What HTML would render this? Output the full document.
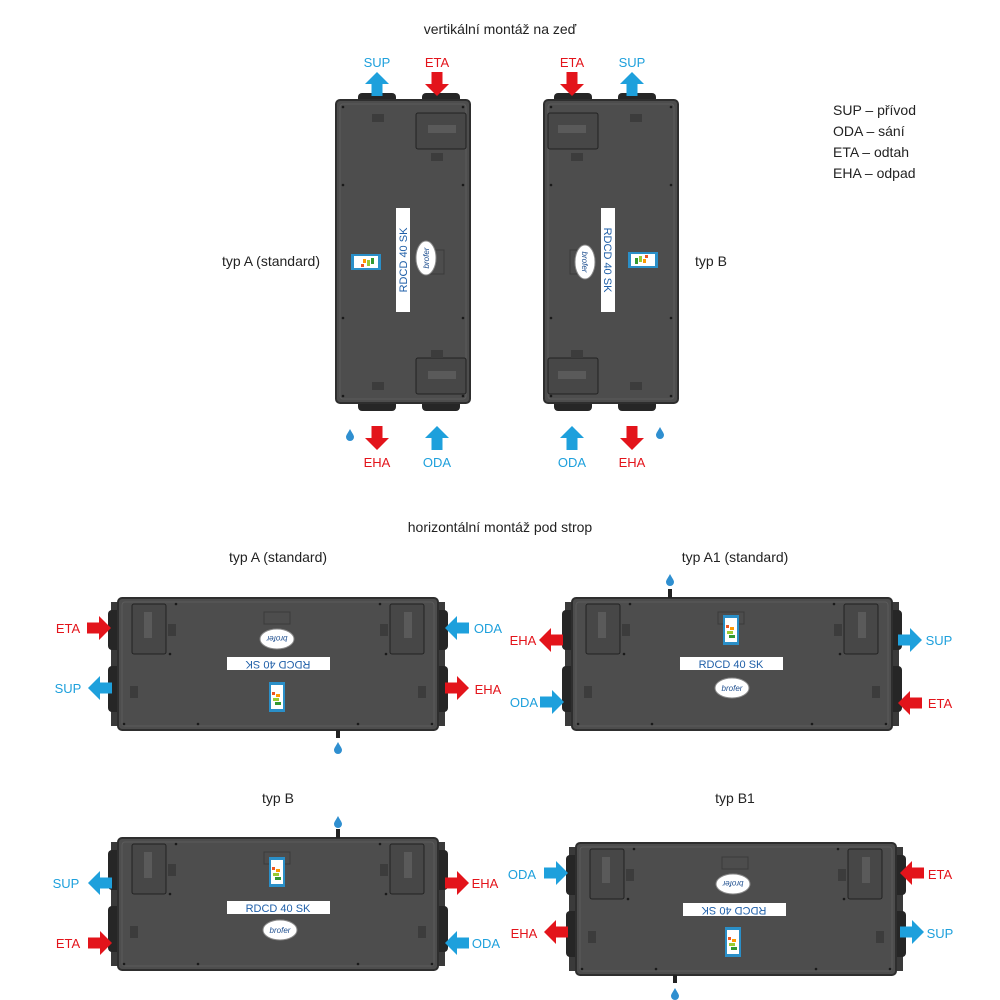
<!DOCTYPE html>
<html><head><meta charset="utf-8"><style>
html,body{margin:0;padding:0;background:#fff;}
svg{display:block;font-family:"Liberation Sans",sans-serif;}
</style></head><body>
<svg width="1000" height="1000" viewBox="0 0 1000 1000" xmlns="http://www.w3.org/2000/svg">
<defs>
<polygon id="ar" points="-12,-5.5 0,-5.5 0,-12 12,0 0,12 0,5.5 -12,5.5"/>
<path id="drop" d="M0,-6 C2,-2 4,0 4,2 A4,4 0 0 1 -4,2 C-4,0 -2,-2 0,-6Z" fill="#2f8fd0"/>
<g id="hunit">
  <rect x="-7" y="4" width="8" height="124" fill="#3a3a3a"/>
  <rect x="319" y="4" width="8" height="124" fill="#3a3a3a"/>
  <rect x="-10" y="12" width="14" height="40" rx="4" fill="#262626"/>
  <rect x="-10" y="68" width="14" height="46" rx="4" fill="#262626"/>
  <rect x="316" y="12" width="14" height="40" rx="4" fill="#262626"/>
  <rect x="316" y="68" width="14" height="46" rx="4" fill="#262626"/>
  <rect x="0" y="0" width="320" height="132" rx="4" fill="#4d4d4d" stroke="#2e2e2e" stroke-width="2"/>
  <rect x="4" y="4" width="312" height="124" rx="3" fill="none" stroke="#5c5c5c" stroke-width="1"/>
  <rect x="14" y="6" width="34" height="50" rx="2" fill="#474747" stroke="#222" stroke-width="1"/>
  <rect x="272" y="6" width="34" height="50" rx="2" fill="#474747" stroke="#222" stroke-width="1"/>
  <rect x="26" y="14" width="8" height="26" fill="#5a5a5a"/>
  <rect x="286" y="14" width="8" height="26" fill="#5a5a5a"/>
  <rect x="50" y="26" width="8" height="12" fill="#3c3c3c"/>
  <rect x="262" y="26" width="8" height="12" fill="#3c3c3c"/>
  <rect x="12" y="88" width="8" height="12" fill="#3c3c3c"/>
  <rect x="300" y="88" width="8" height="12" fill="#3c3c3c"/>
  <rect x="146" y="14" width="26" height="12" fill="none" stroke="#3a3a3a"/>
  <g fill="#1a1a1a"><circle cx="58" cy="6" r="1.3"/><circle cx="262" cy="6" r="1.3"/><circle cx="52" cy="56" r="1.3"/><circle cx="268" cy="56" r="1.3"/><circle cx="80" cy="126" r="1.3"/><circle cx="240" cy="126" r="1.3"/><circle cx="6" cy="126" r="1.3"/><circle cx="314" cy="126" r="1.3"/></g>
</g>
<g id="vunit">
  <rect x="22" y="-7" width="38" height="14" rx="4" fill="#262626"/>
  <rect x="86" y="-7" width="38" height="14" rx="4" fill="#262626"/>
  <rect x="22" y="297" width="38" height="14" rx="4" fill="#262626"/>
  <rect x="86" y="297" width="38" height="14" rx="4" fill="#262626"/>
  <rect x="0" y="0" width="134" height="303" rx="4" fill="#4d4d4d" stroke="#2e2e2e" stroke-width="2"/>
  <rect x="4" y="4" width="126" height="295" rx="3" fill="none" stroke="#5c5c5c"/>
  <rect x="80" y="13" width="50" height="36" rx="2" fill="#474747" stroke="#222"/>
  <rect x="80" y="258" width="50" height="36" rx="2" fill="#474747" stroke="#222"/>
  <rect x="92" y="25" width="28" height="8" fill="#5a5a5a"/>
  <rect x="92" y="271" width="28" height="8" fill="#5a5a5a"/>
  <rect x="95" y="53" width="12" height="8" fill="#3c3c3c"/>
  <rect x="95" y="250" width="12" height="8" fill="#3c3c3c"/>
  <rect x="36" y="14" width="12" height="8" fill="#3c3c3c"/>
  <rect x="36" y="282" width="12" height="8" fill="#3c3c3c"/>
  <rect x="94" y="150" width="14" height="24" fill="none" stroke="#3a3a3a"/>
  <g fill="#1a1a1a"><circle cx="7" cy="7" r="1.3"/><circle cx="127" cy="7" r="1.3"/><circle cx="7" cy="85" r="1.3"/><circle cx="127" cy="85" r="1.3"/><circle cx="7" cy="218" r="1.3"/><circle cx="127" cy="218" r="1.3"/><circle cx="7" cy="296" r="1.3"/><circle cx="127" cy="296" r="1.3"/></g>
</g>
<g id="elab">
  <rect x="0" y="0" width="16" height="30" fill="#2a8fc8"/>
  <rect x="2" y="3" width="12" height="24" fill="#fff"/>
  <rect x="3" y="10" width="3" height="3" fill="#e52"/><rect x="7" y="12" width="4" height="3" fill="#f90"/><rect x="4" y="16" width="6" height="3" fill="#9c3"/><rect x="6" y="20" width="6" height="3" fill="#393"/>
</g>
<g id="brof"><ellipse cx="0" cy="0" rx="17" ry="10" fill="#fff" stroke="#888"/><text x="0" y="3" font-size="8" text-anchor="middle" fill="#1f4f8f" font-style="italic">brofer</text></g>
</defs>

<g font-size="14" fill="#222">
<text x="500" y="34" text-anchor="middle">vertikální montáž na zeď</text>
<text x="500" y="532" text-anchor="middle">horizontální montáž pod strop</text>
<text x="320" y="266" text-anchor="end">typ A (standard)</text>
<text x="695" y="266">typ B</text>
<text x="278" y="562" text-anchor="middle">typ A (standard)</text>
<text x="735" y="562" text-anchor="middle">typ A1 (standard)</text>
<text x="278" y="803" text-anchor="middle">typ B</text>
<text x="735" y="803" text-anchor="middle">typ B1</text>
<text x="833" y="115">SUP – přívod</text>
<text x="833" y="136">ODA – sání</text>
<text x="833" y="157">ETA – odtah</text>
<text x="833" y="178">EHA – odpad</text>
</g>

<use href="#vunit" x="336" y="100"/>
<rect x="396" y="208" width="14" height="104" fill="#fff"/>
<text transform="translate(407,260) rotate(-90)" font-size="11" text-anchor="middle" fill="#1f5fa8">RDCD 40 SK</text>
<use href="#elab" transform="translate(351,270) rotate(-90)"/>
<use href="#brof" transform="translate(426,258) rotate(-90)"/>
<use href="#vunit" transform="translate(678,100) scale(-1,1)"/>
<rect x="601" y="208" width="14" height="104" fill="#fff"/>
<text transform="translate(604,260) rotate(90)" font-size="11" text-anchor="middle" fill="#1f5fa8">RDCD 40 SK</text>
<use href="#elab" transform="translate(658,252) rotate(90)"/>
<use href="#brof" transform="translate(585,262) rotate(90)"/>

<g font-size="13">
<text x="377" y="67" text-anchor="middle" fill="#1ea0dc">SUP</text>
<text x="437" y="67" text-anchor="middle" fill="#e3141b">ETA</text>
<text x="377" y="467" text-anchor="middle" fill="#e3141b">EHA</text>
<text x="437" y="467" text-anchor="middle" fill="#1ea0dc">ODA</text>
<text x="572" y="67" text-anchor="middle" fill="#e3141b">ETA</text>
<text x="632" y="67" text-anchor="middle" fill="#1ea0dc">SUP</text>
<text x="572" y="467" text-anchor="middle" fill="#1ea0dc">ODA</text>
<text x="632" y="467" text-anchor="middle" fill="#e3141b">EHA</text>
</g>
<use href="#ar" transform="translate(377,84) rotate(-90)" fill="#1ea0dc"/>
<use href="#ar" transform="translate(437,84) rotate(90)" fill="#e3141b"/>
<use href="#ar" transform="translate(377,438) rotate(90)" fill="#e3141b"/>
<use href="#ar" transform="translate(437,438) rotate(-90)" fill="#1ea0dc"/>
<use href="#ar" transform="translate(572,84) rotate(90)" fill="#e3141b"/>
<use href="#ar" transform="translate(632,84) rotate(-90)" fill="#1ea0dc"/>
<use href="#ar" transform="translate(572,438) rotate(-90)" fill="#1ea0dc"/>
<use href="#ar" transform="translate(632,438) rotate(90)" fill="#e3141b"/>
<use href="#drop" x="350" y="435"/>
<use href="#drop" x="660" y="433"/>

<use href="#hunit" x="118" y="598"/>
<rect x="227" y="657" width="103" height="13" fill="#fff"/>
<text transform="translate(278,664) rotate(180)" font-size="11" text-anchor="middle" dominant-baseline="middle" fill="#1f5fa8">RDCD 40 SK</text>
<use href="#brof" transform="translate(277,639) rotate(180)"/>
<use href="#elab" x="269" y="682"/>
<rect x="336" y="730" width="4" height="8" fill="#222"/><use href="#drop" x="338" y="748"/>
<use href="#hunit" x="572" y="598"/>
<rect x="680" y="657" width="103" height="13" fill="#fff"/>
<text x="731" y="668" font-size="11" text-anchor="middle" fill="#1f5fa8">RDCD 40 SK</text>
<use href="#brof" x="732" y="688"/>
<use href="#elab" x="723" y="615"/>
<rect x="668" y="589" width="4" height="9" fill="#222"/><use href="#drop" x="670" y="580"/>
<use href="#hunit" x="118" y="838"/>
<rect x="227" y="901" width="103" height="13" fill="#fff"/>
<text x="278" y="912" font-size="11" text-anchor="middle" fill="#1f5fa8">RDCD 40 SK</text>
<use href="#brof" x="280" y="930"/>
<use href="#elab" x="269" y="857"/>
<rect x="336" y="829" width="4" height="9" fill="#222"/><use href="#drop" x="338" y="822"/>
<use href="#hunit" x="576" y="843"/>
<rect x="683" y="903" width="103" height="13" fill="#fff"/>
<text transform="translate(734,910) rotate(180)" font-size="11" text-anchor="middle" dominant-baseline="middle" fill="#1f5fa8">RDCD 40 SK</text>
<use href="#brof" transform="translate(733,884) rotate(180)"/>
<use href="#elab" x="725" y="927"/>
<rect x="673" y="975" width="4" height="8" fill="#222"/><use href="#drop" x="675" y="994"/>

<g font-size="13">
<text x="68" y="633" text-anchor="middle" fill="#e3141b">ETA</text>
<text x="68" y="693" text-anchor="middle" fill="#1ea0dc">SUP</text>
<text x="488" y="633" text-anchor="middle" fill="#1ea0dc">ODA</text>
<text x="488" y="694" text-anchor="middle" fill="#e3141b">EHA</text>
<text x="523" y="645" text-anchor="middle" fill="#e3141b">EHA</text>
<text x="524" y="707" text-anchor="middle" fill="#1ea0dc">ODA</text>
<text x="939" y="645" text-anchor="middle" fill="#1ea0dc">SUP</text>
<text x="940" y="708" text-anchor="middle" fill="#e3141b">ETA</text>
<text x="66" y="888" text-anchor="middle" fill="#1ea0dc">SUP</text>
<text x="68" y="948" text-anchor="middle" fill="#e3141b">ETA</text>
<text x="485" y="888" text-anchor="middle" fill="#e3141b">EHA</text>
<text x="486" y="948" text-anchor="middle" fill="#1ea0dc">ODA</text>
<text x="522" y="879" text-anchor="middle" fill="#1ea0dc">ODA</text>
<text x="524" y="938" text-anchor="middle" fill="#e3141b">EHA</text>
<text x="940" y="879" text-anchor="middle" fill="#e3141b">ETA</text>
<text x="940" y="938" text-anchor="middle" fill="#1ea0dc">SUP</text>
</g>
<use href="#ar" transform="translate(99,628)" fill="#e3141b"/>
<use href="#ar" transform="translate(100,688) rotate(180)" fill="#1ea0dc"/>
<use href="#ar" transform="translate(457,628) rotate(180)" fill="#1ea0dc"/>
<use href="#ar" transform="translate(457,688)" fill="#e3141b"/>
<use href="#ar" transform="translate(551,640) rotate(180)" fill="#e3141b"/>
<use href="#ar" transform="translate(552,702)" fill="#1ea0dc"/>
<use href="#ar" transform="translate(910,640)" fill="#1ea0dc"/>
<use href="#ar" transform="translate(910,703) rotate(180)" fill="#e3141b"/>
<use href="#ar" transform="translate(100,883) rotate(180)" fill="#1ea0dc"/>
<use href="#ar" transform="translate(100,943)" fill="#e3141b"/>
<use href="#ar" transform="translate(457,883)" fill="#e3141b"/>
<use href="#ar" transform="translate(457,943) rotate(180)" fill="#1ea0dc"/>
<use href="#ar" transform="translate(556,873)" fill="#1ea0dc"/>
<use href="#ar" transform="translate(556,932) rotate(180)" fill="#e3141b"/>
<use href="#ar" transform="translate(912,873) rotate(180)" fill="#e3141b"/>
<use href="#ar" transform="translate(912,932)" fill="#1ea0dc"/>
</svg>
</body></html>
